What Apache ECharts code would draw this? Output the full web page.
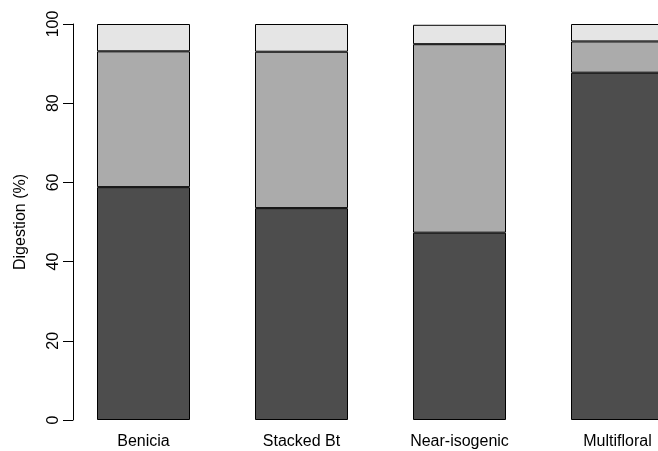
<!DOCTYPE html>
<html>
<head>
<meta charset="utf-8">
<script src="https://cdn.jsdelivr.net/npm/echarts@6/dist/echarts.min.js"></script>
<style>
  html, body { margin: 0; padding: 0; background: #fff; }
  #chart { width: 658px; height: 451px; }
</style>
</head>
<body>
<div id="chart"></div>
<script>
// Varieties along the x axis
const categories = ['Benicia', 'Stacked Bt', 'Near-isogenic', 'Multifloral'];

// Stacked digestion fractions (%), bottom to top
const digested = [58.8, 53.5, 47.3, 87.7];
const partial = [34.3, 39.5, 47.6, 7.9];
const remaining = [6.9, 7.0, 4.9, 4.4];

// Y axis ticks
const yTicks = [0, 20, 40, 60, 80, 100];

const FONT = '"Liberation Sans", Arial, Helvetica, sans-serif';

const chart = echarts.init(document.getElementById('chart'), null, { renderer: 'canvas' });

function seg(name, data, color) {
  return {
    name: name,
    type: 'bar',
    stack: 'total',
    data: data,
    barWidth: 93,
    itemStyle: { color: color, borderColor: '#000', borderWidth: 1 },
    emphasis: { disabled: true },
    silent: true
  };
}

chart.setOption({
  animation: false,
  backgroundColor: '#fff',
  grid: {
    left: 64.5, top: 24, width: 632, height: 396,
    containLabel: false, outerBoundsMode: 'none'
  },
  xAxis: {
    type: 'category',
    data: categories,
    boundaryGap: true,
    axisLine: { show: false },
    axisTick: { show: false },
    axisLabel: { color: '#000', fontSize: 16, fontFamily: FONT, margin: 14, interval: 0 }
  },
  yAxis: {
    type: 'value',
    min: yTicks[0],
    max: yTicks[yTicks.length - 1],
    interval: yTicks[1] - yTicks[0],
    offset: -8.5,
    axisLine: { show: true, lineStyle: { color: '#000', width: 1 } },
    axisTick: { show: true, length: 10, lineStyle: { color: '#000', width: 1 } },
    splitLine: { show: false },
    axisLabel: { color: '#000', fontSize: 16, fontFamily: FONT, rotate: 90, margin: 11 }
  },
  graphic: [{
    type: 'text',
    x: 21, y: 222,
    rotation: Math.PI / 2,
    style: {
      text: 'Digestion (%)',
      fill: '#000',
      font: '16px ' + FONT,
      align: 'center',
      verticalAlign: 'middle'
    }
  }],
  series: [
    seg('Digested', digested, '#4d4d4d'),
    seg('Partial', partial, '#ababab'),
    seg('Remaining', remaining, '#e5e5e5')
  ]
});
</script>
</body>
</html>
